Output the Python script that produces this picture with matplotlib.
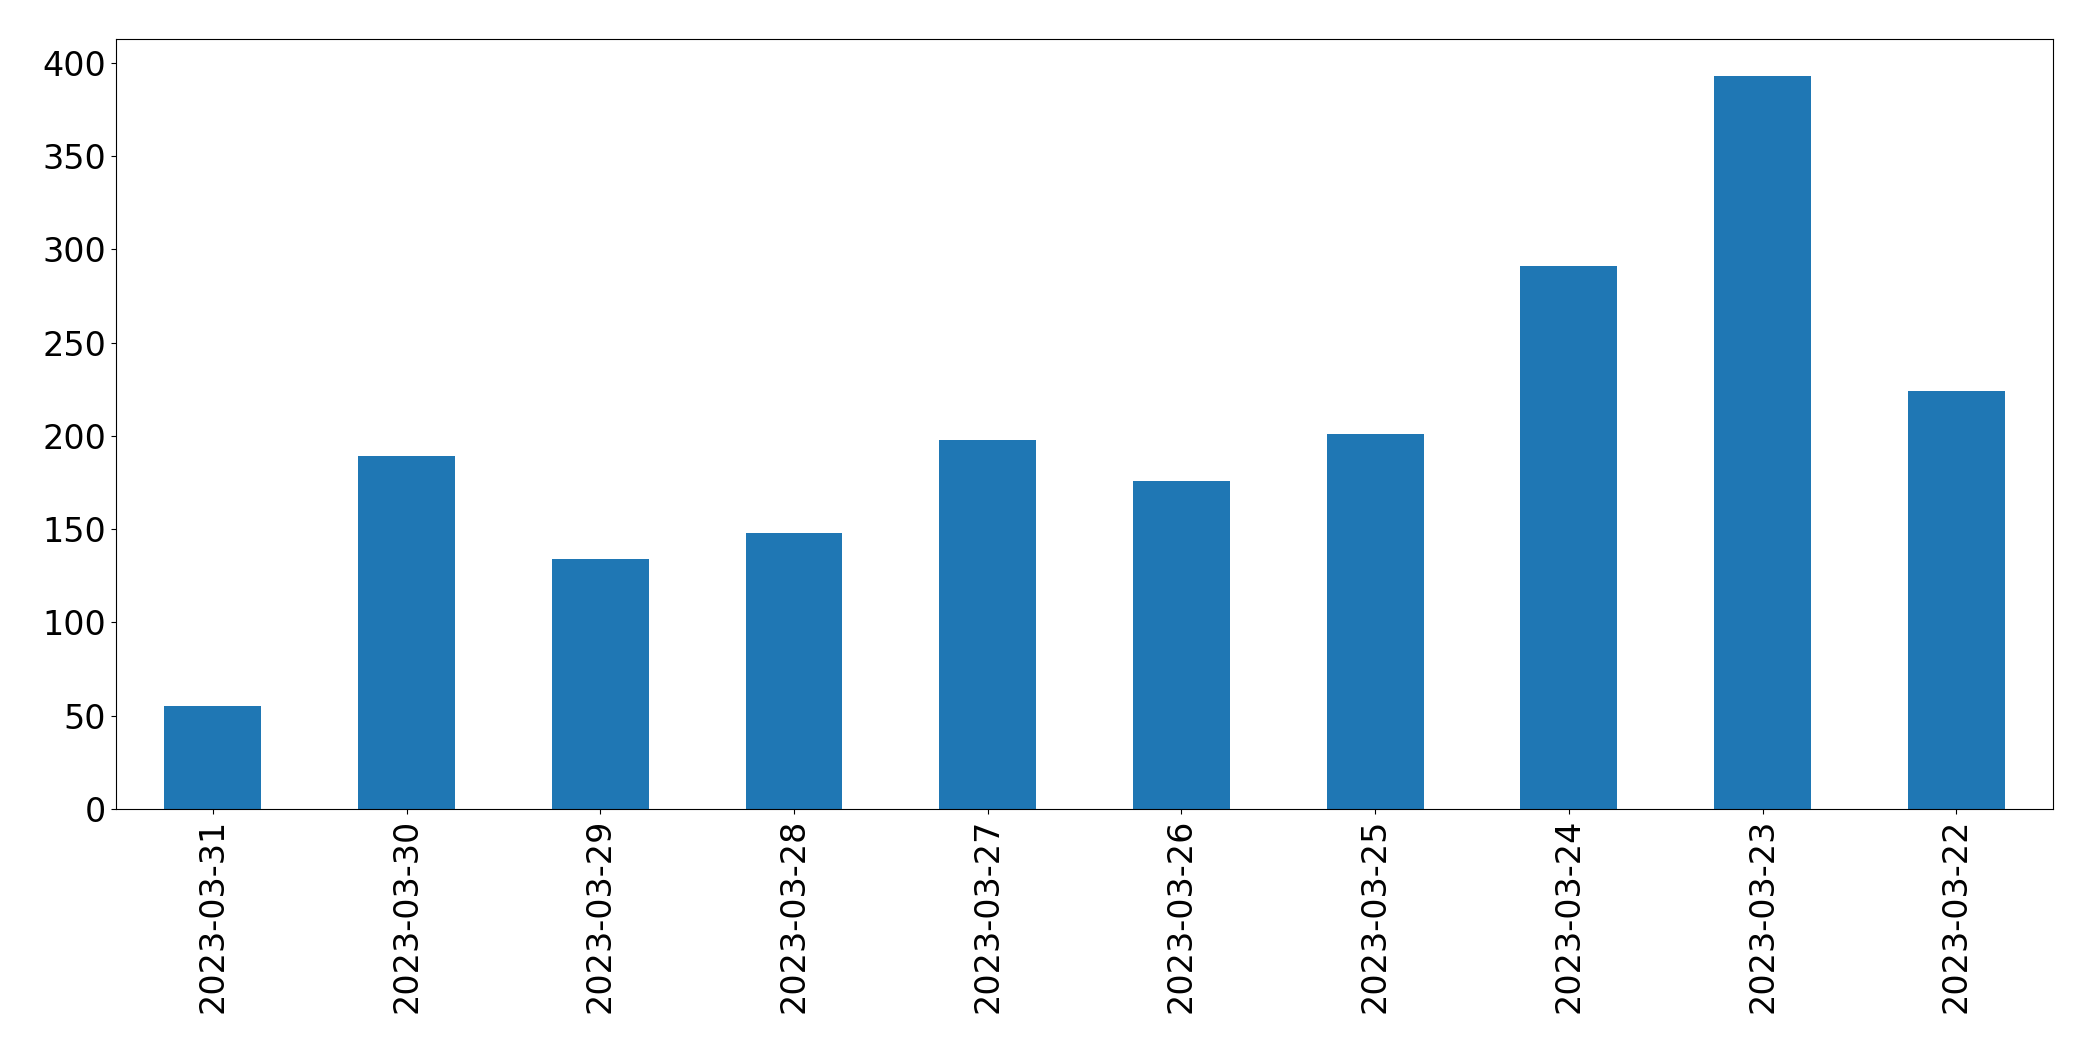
import matplotlib
matplotlib.use("Agg")
import matplotlib.pyplot as plt
import numpy as np

dates = ["2023-03-31", "2023-03-30", "2023-03-29", "2023-03-28", "2023-03-27",
         "2023-03-26", "2023-03-25", "2023-03-24", "2023-03-23", "2023-03-22"]
counts = [55, 189, 134, 148, 198, 176, 201, 291, 393, 224]

fig, ax = plt.subplots(figsize=(20.93, 10.61), dpi=100)
x = np.arange(len(dates))
ax.bar(x, counts, width=0.5, color="#1f77b4")
ax.set_xlim(-0.5, len(dates) - 0.5)
ax.set_xticks(x)
ax.set_xticklabels(dates, rotation=90)
ax.tick_params(axis="both", labelsize=24)
fig.subplots_adjust(left=0.0554, right=0.981, top=0.963, bottom=0.2375)
fig.savefig("out.png", dpi=100)
